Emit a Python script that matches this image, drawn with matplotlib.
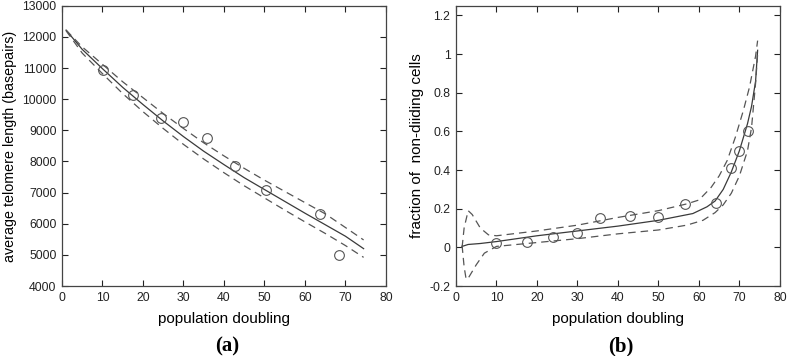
import matplotlib
matplotlib.use("Agg")
import matplotlib.pyplot as plt

# ---- panel (a): telomere length ----
a_pd_obs = [10.2, 17.5, 24.5, 30.0, 35.7, 42.8, 50.3, 63.8, 68.5]
a_len_obs = [10950, 10150, 9400, 9270, 8760, 7860, 7100, 6320, 5000]
a_x = [1.0, 5, 10, 15, 20, 25, 30, 35, 40, 45, 50, 55, 60, 65, 70, 74.5]
a_mid = [12220, 11600, 10980, 10380, 9830, 9300, 8800, 8330, 7900, 7480, 7100, 6720, 6340, 5970, 5600, 5200]
a_up = [12220, 11680, 11120, 10560, 10050, 9540, 9060, 8600, 8180, 7780, 7400, 7040, 6680, 6320, 5880, 5480]
a_lo = [12200, 11480, 10820, 10180, 9600, 9060, 8550, 8080, 7640, 7220, 6830, 6440, 6060, 5690, 5300, 4920]

# ---- panel (b): fraction of non-dividing cells ----
b_pd_obs = [10.0, 17.5, 24.0, 30.0, 35.5, 43.0, 50.0, 56.5, 64.2, 68.0, 70.0, 72.2]
b_frac_obs = [0.025, 0.03, 0.055, 0.075, 0.15, 0.16, 0.155, 0.225, 0.23, 0.41, 0.50, 0.60]
b_x_mid = [1.5, 3, 6, 10, 20, 30, 40, 50, 58.5, 62, 64, 66, 68, 70, 72, 73, 74, 74.5]
b_mid = [0.005, 0.015, 0.02, 0.03, 0.06, 0.085, 0.11, 0.14, 0.175, 0.21, 0.24, 0.30, 0.39, 0.50, 0.64, 0.73, 0.86, 1.02]
b_x_up = [1.5, 2, 3, 4, 6, 8, 10, 20, 30, 40, 50, 57, 60, 63, 65, 67, 69, 71, 72.5, 74, 74.5]
b_up = [0.0, 0.10, 0.19, 0.17, 0.10, 0.065, 0.06, 0.085, 0.115, 0.155, 0.19, 0.225, 0.245, 0.31, 0.37, 0.45, 0.57, 0.71, 0.83, 0.99, 1.07]
b_x_lo = [1.5, 2, 2.5, 3, 5, 7, 10, 20, 30, 40, 50, 57, 61, 64, 66, 68, 70, 72, 73, 74, 74.5]
b_lo = [0.01, -0.10, -0.165, -0.16, -0.09, -0.03, 0.005, 0.025, 0.045, 0.07, 0.09, 0.115, 0.14, 0.18, 0.22, 0.28, 0.37, 0.50, 0.62, 0.85, 1.0]

plt.rcParams['font.family'] = ['Liberation Sans', 'DejaVu Sans']

fig = plt.figure(figsize=(7.88, 3.56), dpi=100)
axA = fig.add_axes([0.0787, 0.1966, 0.411, 0.787])
axB = fig.add_axes([0.5787, 0.1966, 0.411, 0.787])

lc = '#3a3a3a'
dc = '#555555'
mc = '#555555'

axA.plot(a_x, a_mid, '-', color=lc, lw=0.9)
axA.plot(a_x, a_up, '--', color=dc, lw=0.9, dashes=(6, 4))
axA.plot(a_x, a_lo, '--', color=dc, lw=0.9, dashes=(6, 4))
axA.plot(a_pd_obs, a_len_obs, 'o', mfc='none', mec=mc, ms=7, mew=0.8)
axA.set_xlim(0, 80)
axA.set_ylim(4000, 13000)
axA.set_xticks(range(0, 81, 10))
axA.set_yticks(range(4000, 13001, 1000))
axA.set_xlabel('population doubling', fontsize=11, labelpad=6)
axA.set_ylabel('average telomere length (basepairs)', fontsize=10.3, va='center')
axA.yaxis.set_label_coords(-0.16, 0.5)

axB.plot(b_x_mid, b_mid, '-', color=lc, lw=0.9)
axB.plot(b_x_up, b_up, '--', color=dc, lw=0.9, dashes=(6, 4))
axB.plot(b_x_lo, b_lo, '--', color=dc, lw=0.9, dashes=(6, 4))
axB.plot(b_pd_obs, b_frac_obs, 'o', mfc='none', mec=mc, ms=7, mew=0.8)
axB.set_xlim(0, 80)
axB.set_ylim(-0.2, 1.25)
axB.set_xticks(range(0, 81, 10))
axB.set_yticks([-0.2, 0, 0.2, 0.4, 0.6, 0.8, 1.0, 1.2])
axB.set_yticklabels(['-0.2', '0', '0.2', '0.4', '0.6', '0.8', '1', '1.2'])
axB.set_xlabel('population doubling', fontsize=11, labelpad=6)
axB.set_ylabel('fraction of  non-diiding cells', fontsize=11, va='center')
axB.yaxis.set_label_coords(-0.12, 0.5)

for ax in (axA, axB):
    ax.tick_params(direction='in', top=True, right=True, length=4, width=0.8,
                   labelsize=8.8, colors='#222222', pad=4)
    for s in ax.spines.values():
        s.set_color('#444444')
        s.set_linewidth(0.9)

fig.text(0.288, 0.0, '(a)', ha='center', va='bottom', fontsize=15,
         fontweight='bold', family='Liberation Serif')
fig.text(0.788, 0.0, '(b)', ha='center', va='bottom', fontsize=15,
         fontweight='bold', family='Liberation Serif')

fig.savefig('out.png', dpi=100)
